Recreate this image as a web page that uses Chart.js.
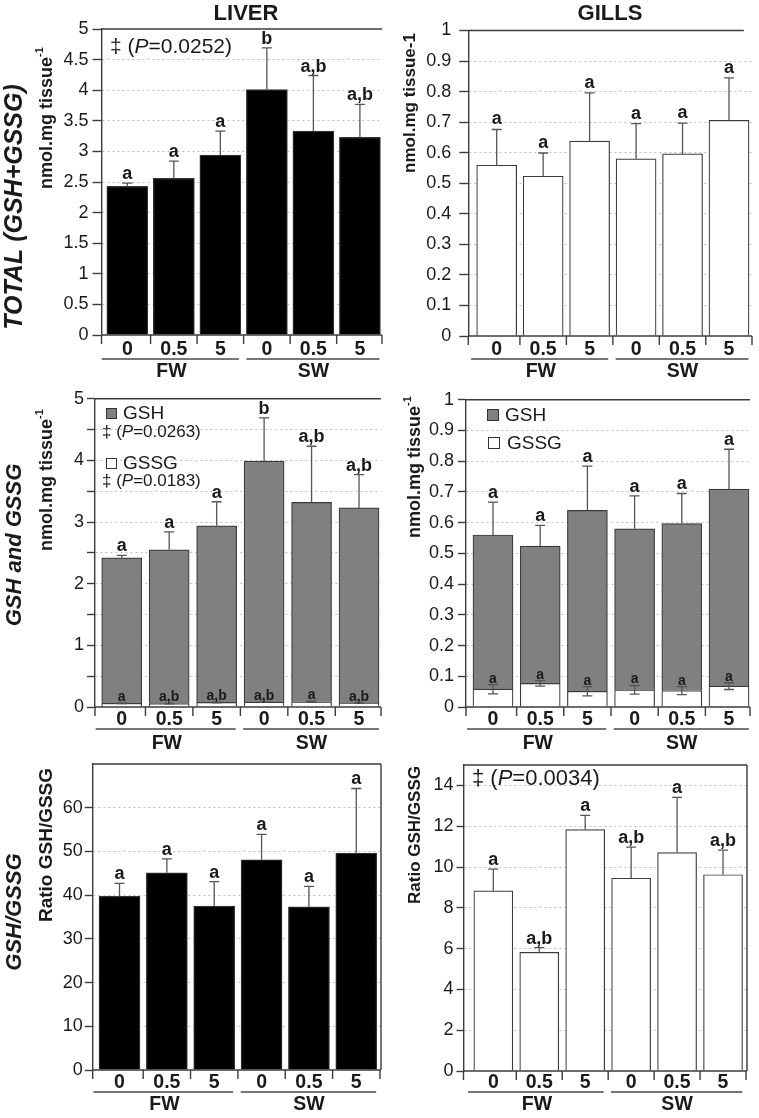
<!DOCTYPE html>
<html>
<head>
<meta charset="utf-8">
<script src="https://cdn.jsdelivr.net/npm/chart.js@4.4.1/dist/chart.umd.min.js"></script>
<style>
  html, body { margin: 0; padding: 0; background: #fff; }
  body { width: 759px; height: 1118px; position: relative; overflow: hidden; }
  canvas { position: absolute; }
</style>
</head>
<body>
<canvas id="p1" width="385" height="385" style="left:0;top:0"></canvas>
<canvas id="p2" width="374" height="385" style="left:385px;top:0"></canvas>
<canvas id="p3" width="385" height="373" style="left:0;top:385px"></canvas>
<canvas id="p4" width="374" height="373" style="left:385px;top:385px"></canvas>
<canvas id="p5" width="385" height="378" style="left:0;top:740px"></canvas>
<canvas id="p6" width="374" height="378" style="left:385px;top:740px"></canvas>
<script>
// Werte (Mittelwert + SE), Reihenfolge: FW 0/0.5/5, SW 0/0.5/5
const doses = ['0', '0.5', '5', '0', '0.5', '5'];
const groups = ['FW', 'SW'];

// Leber, Gesamt-Glutathion (GSH+GSSG)
const liverTotal = [2.43, 2.56, 2.94, 4.01, 3.33, 3.23];
const liverTotalSE = [0.05, 0.28, 0.39, 0.68, 0.91, 0.54];
const liverTotalLetters = ['a', 'a', 'a', 'b', 'a,b', 'a,b'];

// Kiemen, Gesamt
const gillsTotal = [0.559, 0.523, 0.638, 0.580, 0.596, 0.706];
const gillsTotalSE = [0.117, 0.076, 0.158, 0.115, 0.101, 0.139];
const gillsTotalLetters = ['a', 'a', 'a', 'a', 'a', 'a'];

// Leber, gestapelt: GSSG unten, GSH oben drauf
const liverGSSG = [0.06, 0.055, 0.075, 0.08, 0.085, 0.065];
const liverGSSGSE = [0.005, 0.005, 0.006, 0.006, 0.008, 0.006];
const liverGSSGLetters = ['a', 'a,b', 'a,b', 'a,b', 'a', 'a,b'];
const liverGSH = [2.36, 2.495, 2.865, 3.91, 3.235, 3.165];
const liverGSHSE = [0.04, 0.29, 0.39, 0.70, 0.91, 0.54];
const liverGSHLetters = ['a', 'a', 'a', 'b', 'a,b', 'a,b'];

// Kiemen, gestapelt
const gillsGSSG = [0.058, 0.077, 0.051, 0.056, 0.053, 0.068];
const gillsGSSGSE = [0.015, 0.009, 0.015, 0.014, 0.013, 0.011];
const gillsGSSGLetters = ['a', 'a', 'a', 'a', 'a', 'a'];
const gillsGSH = [0.502, 0.447, 0.589, 0.524, 0.544, 0.641];
const gillsGSHSE = [0.107, 0.067, 0.144, 0.107, 0.098, 0.130];
const gillsGSHLetters = ['a', 'a', 'a', 'a', 'a', 'a'];

// Verhältnis GSH/GSSG
const liverRatio = [39.7, 45.1, 37.5, 48.1, 37.3, 49.6];
const liverRatioSE = [3.0, 3.2, 5.6, 5.8, 4.7, 14.8];
const liverRatioLetters = ['a', 'a', 'a', 'a', 'a', 'a'];
const gillsRatio = [8.83, 5.82, 11.83, 9.45, 10.71, 9.62];
const gillsRatioSE = [1.07, 0.23, 0.70, 1.52, 2.70, 1.21];
const gillsRatioLetters = ['a', 'a,b', 'a', 'a,b', 'a', 'a,b'];

// Y-Ticks
const ticksLiver = [0, 0.5, 1, 1.5, 2, 2.5, 3, 3.5, 4, 4.5, 5];
const ticksGills = [0, 0.1, 0.2, 0.3, 0.4, 0.5, 0.6, 0.7, 0.8, 0.9, 1];
const ticksLiverRatio = [0, 10, 20, 30, 40, 50, 60];
const ticksGillsRatio = [0, 2, 4, 6, 8, 10, 12, 14];

const FONT = '"Liberation Sans", Arial, Helvetica, sans-serif';
const INK = '#1a1a1a';
const AXIS = '#3c3c3c';
const GRID = '#bdbdbd';
const ERR = '#555555';
const GSH_GREY = '#808080';
const CAP = 5;

// Gruppenlinien unter der Achse, in Einheiten der x-Skala
const groupSpans = [[-0.55, 2.4], [2.56, 5.42]];
const groupCenters = [0.95, 4.0];

function font(size, style) {
  return (style ? style + ' ' : '') + size + 'px ' + FONT;
}

function pValue(label, size) {
  return [
    { text: '\u2021 (', font: font(size) },
    { text: 'P', font: font(size, 'italic') },
    { text: '=' + label + ')', font: font(size) },
  ];
}

function unitTitle(size) {
  return [
    { text: 'nmol.mg tissue', font: font(size, 'bold') },
    { text: '-1', font: font(Math.round(size * 0.62), 'bold'), dy: -7 },
  ];
}

const panels = [
  {
    id: 'p1', origin: [0, 0], area: [101.5, 29, 382, 335], xRange: [-0.555, 5.475],
    yMax: 5, ticks: ticksLiver, label: (v) => String(v), tickLength: 9, tickPad: 4,
    barWidth: 41, under: [15, 24, 37],
    series: [{ values: liverTotal, se: liverTotalSE, letters: liverTotalLetters,
      fill: '#000', stroke: '#333', letterSize: 18, letterGap: 4 }],
    texts: [
      { parts: [{ text: 'LIVER', font: font(22, 'bold') }], x: 246, y: 14 },
      { parts: [{ text: 'TOTAL (GSH+GSSG)', font: font(25, 'italic bold') }], x: 15, y: 207, rotate: true },
      { parts: unitTitle(18), x: 47, y: 118, rotate: true },
      { parts: pValue('0.0252', 21), x: 110, y: 47, align: 'left' },
    ],
  },
  {
    id: 'p2', origin: [385, 0], area: [468.3, 30.5, 752, 336], xRange: [-0.611, 5.495], topEnd: 5.32,
    yMax: 1, ticks: ticksGills, label: (v) => String(v), tickLength: 9, tickPad: 8,
    barWidth: 40, under: [14, 23, 36],
    series: [{ values: gillsTotal, se: gillsTotalSE, letters: gillsTotalLetters,
      fill: '#fff', stroke: '#3a3a3a', letterSize: 18, letterGap: 5 }],
    texts: [
      { parts: [{ text: 'GILLS', font: font(22, 'bold') }], x: 610, y: 14 },
      { parts: [{ text: 'nmol.mg tissue-1', font: font(17, 'bold') }], x: 410, y: 103, rotate: true },
    ],
  },
  {
    id: 'p3', origin: [0, 385], area: [95, 397, 381, 707], xRange: [-0.563, 5.463],
    yMax: 5, ticks: ticksLiver, label: (v) => (Number.isInteger(v) ? String(v) : ''), tickLength: 8, tickPad: 3,
    barWidth: 40, under: [13, 22, 37],
    series: [
      { values: liverGSSG, se: liverGSSGSE, letters: liverGSSGLetters, twoSided: true,
        fill: '#fff', stroke: '#3a3a3a', letterSize: 14, letterGap: 2 },
      { values: liverGSH, se: liverGSHSE, letters: liverGSHLetters,
        fill: GSH_GREY, stroke: '#3a3a3a', letterSize: 18, letterGap: 4 },
    ],
    swatches: [
      { x: 106, y: 408, size: 11, fill: GSH_GREY },
      { x: 106, y: 458, size: 11, fill: '#fff' },
    ],
    texts: [
      { parts: [{ text: 'GSH and GSSG', font: font(22, 'italic bold') }], x: 15, y: 545, rotate: true },
      { parts: unitTitle(18), x: 47, y: 480, rotate: true },
      { parts: [{ text: 'GSH', font: font(19) }], x: 123, y: 414, align: 'left' },
      { parts: pValue('0.0263', 17), x: 102, y: 432, align: 'left' },
      { parts: [{ text: 'GSSG', font: font(19) }], x: 123, y: 464, align: 'left' },
      { parts: pValue('0.0183', 17), x: 102, y: 481, align: 'left' },
    ],
  },
  {
    id: 'p4', origin: [385, 385], area: [466, 397, 750, 707], xRange: [-0.572, 5.445],
    yMax: 1, ticks: ticksGills, label: (v) => String(v), tickLength: 8, tickPad: 4,
    barWidth: 40, under: [13, 22, 37],
    series: [
      { values: gillsGSSG, se: gillsGSSGSE, letters: gillsGSSGLetters, twoSided: true,
        fill: '#fff', stroke: '#3a3a3a', letterSize: 14, letterGap: 2 },
      { values: gillsGSH, se: gillsGSHSE, letters: gillsGSHLetters,
        fill: GSH_GREY, stroke: '#3a3a3a', letterSize: 18, letterGap: 4 },
    ],
    swatches: [
      { x: 487, y: 409, size: 12, fill: GSH_GREY },
      { x: 488, y: 437, size: 12, fill: '#fff' },
    ],
    texts: [
      { parts: unitTitle(18), x: 415, y: 467, rotate: true },
      { parts: [{ text: 'GSH', font: font(19) }], x: 505, y: 416, align: 'left' },
      { parts: [{ text: 'GSSG', font: font(19) }], x: 507, y: 444, align: 'left' },
    ],
  },
  {
    id: 'p5', origin: [0, 740], area: [92.7, 764, 381, 1070], xRange: [-0.566, 5.522], box: true,
    yMax: 70, ticks: ticksLiverRatio, label: (v) => String(v), tickLength: 8, tickPad: 2,
    barWidth: 41, under: [13, 22, 35],
    series: [{ values: liverRatio, se: liverRatioSE, letters: liverRatioLetters,
      fill: '#000', stroke: '#333', letterSize: 18, letterGap: 4 }],
    texts: [
      { parts: [{ text: 'GSH/GSSG', font: font(22, 'italic bold') }], x: 15, y: 912, rotate: true },
      { parts: [{ text: 'Ratio GSH/GSSG', font: font(19, 'bold') }], x: 47, y: 845, rotate: true },
    ],
  },
  {
    id: 'p6', origin: [385, 740], area: [463.5, 765, 747, 1071], xRange: [-0.649, 5.522], box: true,
    yMax: 15, ticks: ticksGillsRatio, label: (v) => String(v), tickLength: 7, tickPad: 3,
    barWidth: 39, under: [12, 21, 34],
    series: [{ values: gillsRatio, se: gillsRatioSE, letters: gillsRatioLetters,
      fill: '#fff', stroke: '#3a3a3a', letterSize: 18, letterGap: 4 }],
    texts: [
      { parts: [{ text: 'Ratio GSH/GSSG', font: font(17, 'bold') }], x: 415, y: 835, rotate: true },
      { parts: pValue('0.0034', 22), x: 472, y: 779, align: 'left' },
    ],
  },
];

const panelById = new Map(panels.map((p) => [p.id, p]));

function drawParts(ctx, parts, x, y, rotate, align) {
  ctx.save();
  ctx.translate(x, y);
  if (rotate) ctx.rotate(-Math.PI / 2);
  ctx.fillStyle = INK;
  ctx.textBaseline = 'middle';
  ctx.textAlign = 'left';
  const widths = parts.map((pt) => {
    ctx.font = pt.font;
    return ctx.measureText(pt.text).width;
  });
  const total = widths.reduce((a, b) => a + b, 0);
  let cx = align === 'left' ? 0 : -total / 2;
  parts.forEach((pt, i) => {
    ctx.font = pt.font;
    ctx.fillText(pt.text, cx, pt.dy || 0);
    cx += widths[i];
  });
  ctx.restore();
}

const figurePlugin = {
  id: 'figure',
  // Fehlerbalken (nur nach oben, GSSG beidseitig) und Buchstaben
  afterDatasetsDraw(chart) {
    const p = panelById.get(chart.canvas.id);
    const ctx = chart.ctx;
    const y = chart.scales.y;
    const base = doses.map(() => 0);
    p.series.forEach((s, k) => {
      const meta = chart.getDatasetMeta(k);
      meta.data.forEach((bar, i) => {
        const top = base[i] + s.values[i];
        const yTop = y.getPixelForValue(top);
        const yHi = y.getPixelForValue(top + s.se[i]);
        const yLo = s.twoSided ? y.getPixelForValue(top - s.se[i]) : yTop;
        ctx.save();
        ctx.strokeStyle = ERR;
        ctx.lineWidth = 1.3;
        ctx.beginPath();
        ctx.moveTo(bar.x, yLo);
        ctx.lineTo(bar.x, yHi);
        ctx.moveTo(bar.x - CAP, yHi);
        ctx.lineTo(bar.x + CAP, yHi);
        if (s.twoSided) {
          ctx.moveTo(bar.x - CAP, yLo);
          ctx.lineTo(bar.x + CAP, yLo);
        }
        ctx.stroke();
        ctx.fillStyle = INK;
        ctx.font = font(s.letterSize, 'bold');
        ctx.textAlign = 'center';
        ctx.textBaseline = 'alphabetic';
        ctx.fillText(s.letters[i], bar.x, yHi - s.letterGap);
        ctx.restore();
      });
      s.values.forEach((v, i) => { base[i] += v; });
    });
  },
  // x-Achse, Rahmen, Gruppen FW/SW und Beschriftungen
  afterDraw(chart) {
    const p = panelById.get(chart.canvas.id);
    const ctx = chart.ctx;
    const x = chart.scales.x;
    const { left, right, top, bottom } = chart.chartArea;
    const [ox, oy] = p.origin;
    const [uLabel, uLine, uGroup] = p.under;

    ctx.save();
    ctx.strokeStyle = AXIS;
    ctx.lineWidth = 1.4;
    ctx.beginPath();
    ctx.moveTo(left, bottom);
    ctx.lineTo(right, bottom);
    ctx.moveTo(left, top);
    ctx.lineTo(p.topEnd ? x.getPixelForValue(p.topEnd) : right, top);
    if (p.box) {
      ctx.moveTo(right, top);
      ctx.lineTo(right, bottom);
    }
    const tickXs = [left].concat(doses.map((d, i) => Math.min(x.getPixelForValue(i + 0.5), right)));
    tickXs.forEach((tx) => {
      ctx.moveTo(tx, bottom);
      ctx.lineTo(tx, bottom + 9);
    });
    ctx.stroke();

    ctx.fillStyle = INK;
    ctx.font = font(19.5, 'bold');
    ctx.textAlign = 'center';
    ctx.textBaseline = 'middle';
    doses.forEach((d, i) => ctx.fillText(d, x.getPixelForValue(i), bottom + uLabel));

    ctx.strokeStyle = '#4a4a4a';
    ctx.lineWidth = 1.3;
    ctx.beginPath();
    groupSpans.forEach(([a, b]) => {
      ctx.moveTo(x.getPixelForValue(a), bottom + uLine);
      ctx.lineTo(x.getPixelForValue(b), bottom + uLine);
    });
    ctx.stroke();
    groups.forEach((g, k) => ctx.fillText(g, x.getPixelForValue(groupCenters[k]), bottom + uGroup));

    (p.swatches || []).forEach((sw) => {
      ctx.fillStyle = sw.fill;
      ctx.strokeStyle = '#333';
      ctx.lineWidth = 1;
      ctx.fillRect(sw.x - ox, sw.y - oy, sw.size, sw.size);
      ctx.strokeRect(sw.x - ox + 0.5, sw.y - oy + 0.5, sw.size - 1, sw.size - 1);
    });
    ctx.restore();

    p.texts.forEach((t) => drawParts(ctx, t.parts, t.x - ox, t.y - oy, t.rotate, t.align));
  },
};

function makeChart(p) {
  const canvas = document.getElementById(p.id);
  const [ox, oy] = p.origin;
  const [L, T, R, B] = p.area;
  const datasets = p.series.map((s) => ({
    data: s.values.map((v, i) => ({ x: i, y: v })),
    backgroundColor: s.fill,
    borderColor: s.stroke,
    borderWidth: 1.2,
    barThickness: p.barWidth,
  }));
  return new Chart(canvas, {
    type: 'bar',
    data: { datasets },
    options: {
      responsive: false,
      animation: false,
      devicePixelRatio: 1,
      layout: {
        padding: { left: 0, top: T - oy, right: ox + canvas.width - R, bottom: oy + canvas.height - B },
      },
      plugins: { legend: { display: false }, tooltip: { enabled: false } },
      scales: {
        x: {
          type: 'linear', display: false, offset: false, grid: { offset: false },
          min: p.xRange[0], max: p.xRange[1], stacked: true,
        },
        y: {
          min: 0,
          max: p.yMax,
          stacked: true,
          afterBuildTicks: (s) => { s.ticks = p.ticks.map((v) => ({ value: v })); },
          afterFit: (s) => { s.width = L - ox; },
          border: { display: true, color: AXIS, width: 1.4, dash: [2, 3] },
          grid: {
            color: (c) => (c.tick && c.tick.value > 0 && c.tick.value < p.yMax ? GRID : 'rgba(0,0,0,0)'),
            lineWidth: 1,
            tickLength: p.tickLength,
            tickColor: AXIS,
            tickWidth: 1.4,
          },
          ticks: {
            autoSkip: false,
            padding: p.tickPad,
            color: INK,
            font: { family: FONT, size: 18 },
            callback: (v) => p.label(v),
          },
        },
      },
    },
    plugins: [figurePlugin],
  });
}

panels.forEach(makeChart);
</script>
</body>
</html>
